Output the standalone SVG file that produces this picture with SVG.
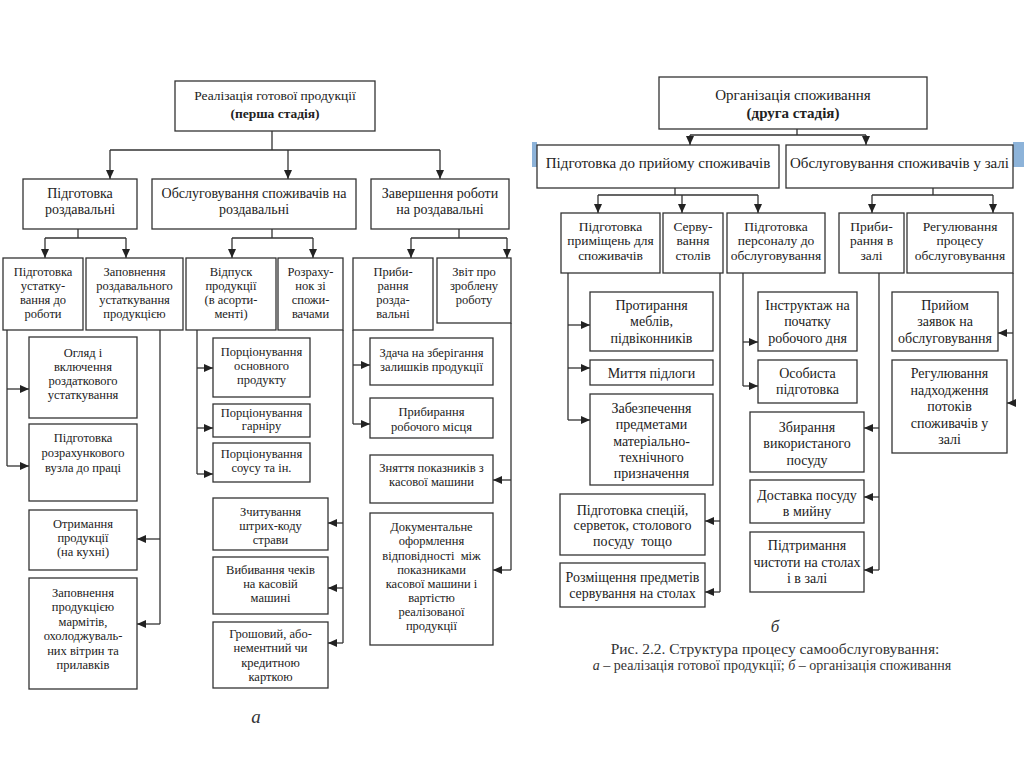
<svg xmlns="http://www.w3.org/2000/svg" width="1024" height="767" viewBox="0 0 1024 767">
<style>
rect.b{fill:#fff;stroke:#333;stroke-width:1.3}
text{font-family:"Liberation Serif","DejaVu Serif",serif;fill:#222;text-anchor:middle}
.s12{font-size:12.5px}
.s13{font-size:13.5px}
.s14{font-size:14px}
.s15{font-size:15px}
.bd{font-weight:bold}
.c path{fill:none;stroke:#333;stroke-width:1.3}
.c path.a{marker-end:url(#ah)}
.it{font-style:italic}
.cap{fill:#333}
</style>
<defs>
<marker id="ah" markerUnits="userSpaceOnUse" markerWidth="9" markerHeight="8" refX="9" refY="4" orient="auto">
<path d="M0,0 L9,4 L0,8 z" fill="#222"/>
</marker>
</defs>
<rect width="1024" height="767" fill="#fff"/>
<rect x="532" y="142" width="5" height="25" fill="#8db3d9"/>
<rect x="1013" y="142" width="11" height="25" fill="#8db3d9"/>

<g class="c" id="connectors">
<!-- left -->
<path d="M272,131 V150 M110,150 H440"/>
<path class="a" d="M110,150 V179"/><path class="a" d="M288,150 V179"/><path class="a" d="M440,150 V179"/>
<path d="M78,229 V238 M45,238 H126"/>
<path class="a" d="M45,238 V258"/><path class="a" d="M126,238 V258"/>
<path d="M272,229 V238 M232,238 H313"/>
<path class="a" d="M232,238 V258"/><path class="a" d="M313,238 V258"/>
<path d="M459,229 V238 M411,238 H507"/>
<path class="a" d="M411,238 V258"/><path class="a" d="M507,238 V258"/>
<path d="M7,330 V466"/>
<path class="a" d="M7,389 H29"/><path class="a" d="M7,466 H29"/>
<path d="M160,330 V624"/>
<path class="a" d="M160,539 H137"/><path class="a" d="M160,624 H137"/>
<path d="M197,330 V474"/>
<path class="a" d="M197,368 H213"/><path class="a" d="M197,428 H213"/><path class="a" d="M197,474 H213"/>
<path d="M343,330 V643"/>
<path class="a" d="M343,523 H328"/><path class="a" d="M343,588 H328"/><path class="a" d="M343,643 H328"/>
<path d="M353,330 V424"/>
<path class="a" d="M353,365 H370"/><path class="a" d="M353,424 H370"/>
<path d="M511,323 V570"/>
<path class="a" d="M511,480 H493"/><path class="a" d="M511,570 H493"/>
<!-- right -->
<path d="M797,129 V135 M690,135 H866"/>
<path class="a" d="M690,135 V145"/><path class="a" d="M866,135 V145"/>
<path d="M675,188 V195 M598,195 H758"/>
<path class="a" d="M598,195 V213"/><path class="a" d="M682,195 V213"/><path class="a" d="M758,195 V213"/>
<path d="M933,188 V195 M872,195 H993"/>
<path class="a" d="M872,195 V213"/><path class="a" d="M993,195 V213"/>
<path d="M568,273 V420"/>
<path class="a" d="M568,325 H590"/><path class="a" d="M568,368 H590"/><path class="a" d="M568,420 H590"/>
<path d="M720,273 V592"/>
<path class="a" d="M720,521 H705"/><path class="a" d="M720,592 H705"/>
<path d="M743,273 V386"/>
<path class="a" d="M743,342 H758"/><path class="a" d="M743,386 H758"/>
<path d="M879,273 V570"/>
<path class="a" d="M879,428 H864"/><path class="a" d="M879,497 H864"/><path class="a" d="M879,570 H864"/>
<path d="M1013,273 V403"/>
<path class="a" d="M1013,333 H998"/><path class="a" d="M1013,403 H1007"/>
</g>

<!-- LEFT DIAGRAM -->
<g id="L0"><rect class="b" x="175" y="81" width="200" height="50"/>
<text class="s13" x="275" y="100">Реалізація готової продукції</text>
<text class="s13 bd" x="275" y="118">(перша стадія)</text></g>

<g id="L1a"><rect class="b" x="23" y="179" width="114" height="50"/>
<text class="s14" x="80" y="198">Підготовка</text><text class="s14" x="80" y="214">роздавальні</text></g>
<g id="L1b"><rect class="b" x="152" y="179" width="204" height="50"/>
<text class="s14" x="254" y="198">Обслуговування споживачів на</text><text class="s14" x="254" y="214">роздавальні</text></g>
<g id="L1c"><rect class="b" x="371" y="179" width="138" height="50"/>
<text class="s14" x="440" y="198">Завершення роботи</text><text class="s14" x="440" y="214">на роздавальні</text></g>

<g id="L2a"><rect class="b" x="3" y="258" width="80" height="72"/>
<text class="s12" x="43" y="276">Підготовка</text><text class="s12" x="43" y="290">устатку-</text><text class="s12" x="43" y="304">вання до</text><text class="s12" x="43" y="318">роботи</text></g>
<g id="L2b"><rect class="b" x="86" y="258" width="97" height="72"/>
<text class="s12" x="134.5" y="276">Заповнення</text><text class="s12" x="134.5" y="290">роздавального</text><text class="s12" x="134.5" y="304">устаткування</text><text class="s12" x="134.5" y="318">продукцією</text></g>
<g id="L2c"><rect class="b" x="186" y="258" width="90" height="72"/>
<text class="s12" x="231" y="276">Відпуск</text><text class="s12" x="231" y="290">продукції</text><text class="s12" x="231" y="304">(в асорти-</text><text class="s12" x="231" y="318">менті)</text></g>
<g id="L2d"><rect class="b" x="278" y="258" width="65" height="72"/>
<text class="s12" x="310.5" y="276">Розраху-</text><text class="s12" x="310.5" y="290">нок зі</text><text class="s12" x="310.5" y="304">спожи-</text><text class="s12" x="310.5" y="318">вачами</text></g>
<g id="L2e"><rect class="b" x="353" y="258" width="80" height="72"/>
<text class="s12" x="393" y="276">Приби-</text><text class="s12" x="393" y="290">рання</text><text class="s12" x="393" y="304">розда-</text><text class="s12" x="393" y="318">вальні</text></g>
<g id="L2f"><rect class="b" x="437" y="258" width="74" height="65"/>
<text class="s12" x="474" y="276">Звіт про</text><text class="s12" x="474" y="290">зроблену</text><text class="s12" x="474" y="304">роботу</text></g>

<g id="L3a"><rect class="b" x="29" y="337" width="108" height="81"/>
<text class="s12" x="83" y="357">Огляд і</text><text class="s12" x="83" y="371">включення</text><text class="s12" x="83" y="385">роздаткового</text><text class="s12" x="83" y="399">устаткування</text></g>
<g id="L3b"><rect class="b" x="29" y="424" width="108" height="77"/>
<text class="s12" x="83" y="442">Підготовка</text><text class="s12" x="83" y="457">розрахункового</text><text class="s12" x="83" y="472">вузла до праці</text></g>
<g id="L3c"><rect class="b" x="29" y="510" width="108" height="60"/>
<text class="s12" x="83" y="528">Отримання</text><text class="s12" x="83" y="542">продукції</text><text class="s12" x="83" y="556">(на кухні)</text></g>
<g id="L3d"><rect class="b" x="29" y="578" width="108" height="111"/>
<text class="s12" x="83" y="597">Заповнення</text><text class="s12" x="83" y="611">продукцією</text><text class="s12" x="83" y="626">мармітів,</text><text class="s12" x="83" y="640">охолоджуваль-</text><text class="s12" x="83" y="655">них вітрин та</text><text class="s12" x="83" y="669">прилавків</text></g>

<g id="L3e"><rect class="b" x="213" y="338" width="97" height="59"/>
<text class="s12" x="261.5" y="356">Порціонування</text><text class="s12" x="261.5" y="370">основного</text><text class="s12" x="261.5" y="384">продукту</text></g>
<g id="L3f"><rect class="b" x="213" y="404" width="97" height="33"/>
<text class="s12" x="261.5" y="417">Порціонування</text><text class="s12" x="261.5" y="430">гарніру</text></g>
<g id="L3g"><rect class="b" x="213" y="443" width="97" height="39"/>
<text class="s12" x="261.5" y="458">Порціонування</text><text class="s12" x="261.5" y="472">соусу та ін.</text></g>
<g id="L3h"><rect class="b" x="213" y="498" width="115" height="52"/>
<text class="s12" x="270.5" y="516">Зчитування</text><text class="s12" x="270.5" y="530">штрих-коду</text><text class="s12" x="270.5" y="544">страви</text></g>
<g id="L3i"><rect class="b" x="213" y="557" width="115" height="57"/>
<text class="s12" x="270.5" y="574">Вибивання чеків</text><text class="s12" x="270.5" y="588">на касовій</text><text class="s12" x="270.5" y="602">машині</text></g>
<g id="L3j"><rect class="b" x="213" y="622" width="115" height="66"/>
<text class="s12" x="270.5" y="638">Грошовий, або-</text><text class="s12" x="270.5" y="652">нементний чи</text><text class="s12" x="270.5" y="667">кредитною</text><text class="s12" x="270.5" y="681">карткою</text></g>

<g id="L3k"><rect class="b" x="370" y="338" width="123" height="47"/>
<text class="s12" x="431.5" y="357">Здача на зберігання</text><text class="s12" x="431.5" y="371">залишків продукції</text></g>
<g id="L3l"><rect class="b" x="370" y="398" width="123" height="40"/>
<text class="s12" x="431.5" y="416">Прибирання</text><text class="s12" x="431.5" y="431">робочого місця</text></g>
<g id="L3m"><rect class="b" x="370" y="455" width="123" height="48"/>
<text class="s12" x="431.5" y="472">Зняття показників з</text><text class="s12" x="431.5" y="486">касової машини</text></g>
<g id="L3n"><rect class="b" x="370" y="513" width="123" height="132"/>
<text class="s12" x="431.5" y="531">Документальне</text><text class="s12" x="431.5" y="545">оформлення</text><text class="s12" x="431.5" y="560" xml:space="preserve">відповідності  між</text><text class="s12" x="431.5" y="574">показниками</text><text class="s12" x="431.5" y="588">касової машини і</text><text class="s12" x="431.5" y="602">вартістю</text><text class="s12" x="431.5" y="616">реалізованої</text><text class="s12" x="431.5" y="630">продукції</text></g>

<text class="it cap" x="256" y="723" style="font-size:19px">а</text>

<!-- RIGHT DIAGRAM -->
<g id="R0"><rect class="b" x="659" y="77" width="268" height="52"/>
<text class="s15" x="793" y="100">Організація споживання</text>
<text class="s15 bd" x="793" y="118">(друга стадія)</text></g>
<g id="R1a"><rect class="b" x="537" y="145" width="242" height="43"/>
<text class="s15" x="658" y="168">Підготовка до прийому споживачів</text></g>
<g id="R1b"><rect class="b" x="786" y="145" width="227" height="43"/>
<text class="s15" x="899.5" y="168">Обслуговування споживачів у залі</text></g>

<g id="R2a"><rect class="b" x="561" y="213" width="99" height="60"/>
<text class="s13" x="610.5" y="231">Підготовка</text><text class="s13" x="610.5" y="245">приміщень для</text><text class="s13" x="610.5" y="260">споживачів</text></g>
<g id="R2b"><rect class="b" x="663" y="213" width="60" height="60"/>
<text class="s13" x="693" y="231">Серву-</text><text class="s13" x="693" y="245">вання</text><text class="s13" x="693" y="260">столів</text></g>
<g id="R2c"><rect class="b" x="727" y="213" width="98" height="60"/>
<text class="s13" x="776" y="231">Підготовка</text><text class="s13" x="776" y="245">персоналу до</text><text class="s13" x="776" y="260">обслуговування</text></g>
<g id="R2d"><rect class="b" x="839" y="213" width="65" height="60"/>
<text class="s13" x="871.5" y="231">Приби-</text><text class="s13" x="871.5" y="245">рання в</text><text class="s13" x="871.5" y="260">залі</text></g>
<g id="R2e"><rect class="b" x="907" y="213" width="106" height="60"/>
<text class="s13" x="960" y="231">Регулювання</text><text class="s13" x="960" y="245">процесу</text><text class="s13" x="960" y="260">обслуговування</text></g>

<g id="R3"><rect class="b" x="590" y="292" width="123" height="59"/>
<text class="s14" x="651.5" y="310">Протирання</text><text class="s14" x="651.5" y="326">меблів,</text><text class="s14" x="651.5" y="343">підвіконників</text></g>
<g id="R4"><rect class="b" x="590" y="360" width="123" height="25"/>
<text class="s14" x="651.5" y="378">Миття підлоги</text></g>
<g id="R5"><rect class="b" x="590" y="394" width="123" height="91"/>
<text class="s14" x="651.5" y="413">Забезпечення</text><text class="s14" x="651.5" y="429">предметами</text><text class="s14" x="651.5" y="446">матеріально-</text><text class="s14" x="651.5" y="462">технічного</text><text class="s14" x="651.5" y="478">призначення</text></g>
<g id="R6"><rect class="b" x="560" y="494" width="145" height="61"/>
<text class="s14" x="632.5" y="515">Підготовка спецій,</text><text class="s14" x="632.5" y="530">серветок, столового</text><text class="s14" x="632.5" y="546" xml:space="preserve">посуду  тощо</text></g>
<g id="R7"><rect class="b" x="560" y="563" width="145" height="44"/>
<text class="s14" x="632.5" y="582">Розміщення предметів</text><text class="s14" x="632.5" y="598">сервування на столах</text></g>

<g id="R8"><rect class="b" x="758" y="292" width="99" height="59"/>
<text class="s14" x="807.5" y="310">Інструктаж на</text><text class="s14" x="807.5" y="326">початку</text><text class="s14" x="807.5" y="343">робочого дня</text></g>
<g id="R9"><rect class="b" x="758" y="360" width="99" height="43"/>
<text class="s14" x="807.5" y="378">Особиста</text><text class="s14" x="807.5" y="394">підготовка</text></g>
<g id="R10"><rect class="b" x="750" y="412" width="114" height="60"/>
<text class="s14" x="807" y="432">Збирання</text><text class="s14" x="807" y="448">використаного</text><text class="s14" x="807" y="465">посуду</text></g>
<g id="R11"><rect class="b" x="750" y="480" width="114" height="43"/>
<text class="s14" x="807" y="500">Доставка посуду</text><text class="s14" x="807" y="516">в мийну</text></g>
<g id="R12"><rect class="b" x="750" y="532" width="114" height="60"/>
<text class="s14" x="807" y="550">Підтримання</text><text class="s14" x="807" y="567">чистоти на столах</text><text class="s14" x="807" y="583">і в залі</text></g>

<g id="R13"><rect class="b" x="892" y="292" width="106" height="59"/>
<text class="s14" x="945" y="310">Прийом</text><text class="s14" x="945" y="326">заявок на</text><text class="s14" x="945" y="343">обслуговування</text></g>
<g id="R14"><rect class="b" x="892" y="360" width="115" height="93"/>
<text class="s14" x="949.5" y="378">Регулювання</text><text class="s14" x="949.5" y="395">надходження</text><text class="s14" x="949.5" y="411">потоків</text><text class="s14" x="949.5" y="428">споживачів у</text><text class="s14" x="949.5" y="444">залі</text></g>

<text class="it cap" x="775" y="632" style="font-size:17px">б</text>
<text class="cap" x="775" y="654" style="font-size:15.5px">Рис. 2.2. Структура процесу самообслуговування:</text>
<text class="cap" x="772" y="670" style="font-size:14px"><tspan class="it">а</tspan> – реалізація готової продукції; <tspan class="it">б</tspan> – організація споживання</text>
</svg>
